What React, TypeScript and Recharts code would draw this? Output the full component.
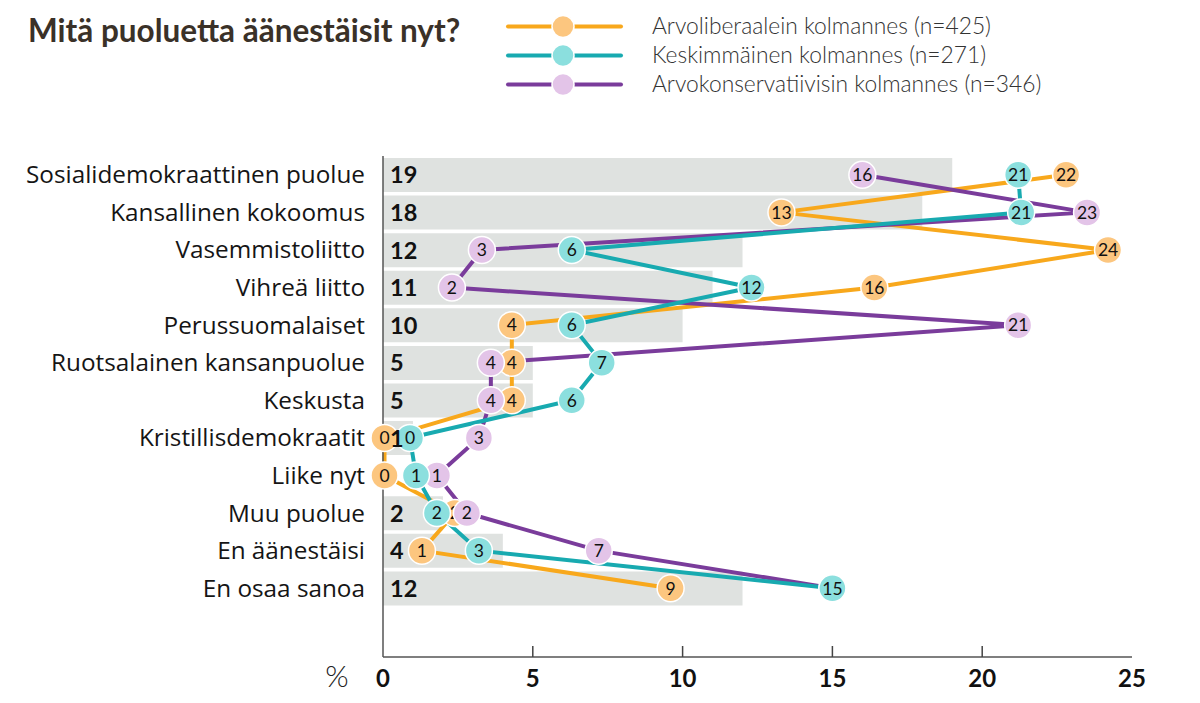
import React from "react";
import { ComposedChart, Bar, Line, XAxis, YAxis, LabelList } from "recharts";

// puolueet ylhäältä alas
const parties = [
  "Sosialidemokraattinen puolue",
  "Kansallinen kokoomus",
  "Vasemmistoliitto",
  "Vihreä liitto",
  "Perussuomalaiset",
  "Ruotsalainen kansanpuolue",
  "Keskusta",
  "Kristillisdemokraatit",
  "Liike nyt",
  "Muu puolue",
  "En äänestäisi",
  "En osaa sanoa",
];

// kaikki vastaajat (harmaat palkit)
const totals = [19, 18, 12, 11, 10, 5, 5, 1, 0, 2, 4, 12];

// arvoliberaalein kolmannes
const liberal = [22.8, 13.3, 24.2, 16.4, 4.3, 4.3, 4.3, 0.05, 0.05, 2.4, 1.3, 9.6];
const liberalLabels = [22, 13, 24, 16, 4, 4, 4, 0, 0, 2, 1, 9];

// keskimmäinen kolmannes
const middle = [21.2, 21.3, 6.3, 12.3, 6.3, 7.3, 6.3, 0.9, 1.1, 1.8, 3.2, 15.0];
const middleLabels = [21, 21, 6, 12, 6, 7, 6, 0, 1, 2, 3, 15];

// arvokonservatiivisin kolmannes
const conservative = [16.0, 23.5, 3.3, 2.3, 21.2, 3.6, 3.6, 3.2, 1.8, 2.8, 7.2, 15.0];
const conservativeLabels = [16, 23, 3, 2, 21, 4, 4, 3, 1, 2, 7, 15];

const seriesNames = [
  "Arvoliberaalein kolmannes (n=425)",
  "Keskimmäinen kolmannes (n=271)",
  "Arvokonservatiivisin kolmannes (n=346)",
];

const xTicks = [0, 5, 10, 15, 20, 25];

const data = parties.map((name, i) => ({
  name,
  total: totals[i],
  liberal: liberal[i],
  middle: middle[i],
  conservative: conservative[i],
}));

const FONT = "Lato, 'Noto Sans', sans-serif";
const LABEL_FONT = "'Open Sans', 'Noto Sans', sans-serif";

const series = [
  { key: "liberal", name: seriesNames[0], line: "#f8a81c", fill: "#fcc67f", labels: liberalLabels },
  { key: "conservative", name: seriesNames[2], line: "#7a3c9b", fill: "#e3c4e8", labels: conservativeLabels },
  { key: "middle", name: seriesNames[1], line: "#18aab0", fill: "#8bdfde", labels: middleLabels },
];
const legendOrder = [series[0], series[2], series[1]];

const makeDot = (fill: string, labels: number[]) => (props: any) => {
  const { cx, cy, index } = props;
  if (cx == null || cy == null) return <g key={`none-${index}`} />;
  return (
    <g key={`dot-${index}`}>
      <circle cx={cx} cy={cy} r={13.5} fill={fill} stroke="#fff" strokeWidth={1.5} />
      <text x={cx} y={cy} dy="0.36em" textAnchor="middle" fontSize={17.5} fontFamily={FONT} fill="#111">
        {labels[index]}
      </text>
    </g>
  );
};

const XTick = (props: any) => {
  const { x, y, payload } = props;
  const v = payload.value;
  return (
    <g>
      {v > 0 && v < 25 && <line x1={x} x2={x} y1={y} y2={y - 11} stroke="#444" strokeWidth={1.5} />}
      <text x={x} y={y + 30} textAnchor="middle" fontWeight={700} fontSize={24} fontFamily={FONT} fill="#111">
        {v}
      </text>
      {v === 0 && (
        <text x={x - 46} y={y + 30} textAnchor="middle" fontSize={30} fontWeight={300} fontFamily={FONT} fill="#222">
          %
        </text>
      )}
    </g>
  );
};

const YTick = (props: any) => {
  const { x, y, payload } = props;
  return (
    <text x={x} y={y} dy="0.35em" textAnchor="end" fontSize={24.3} fontWeight={500} fontFamily={LABEL_FONT} fill="#151515">
      {payload.value}
    </text>
  );
};

const BarValue = (props: any) => {
  const { x, y, height, value } = props;
  return (
    <text x={x + 7} y={y + height / 2} dy="0.36em" fontWeight={700} fontSize={23.5} fontFamily={FONT} fill="#111">
      {value}
    </text>
  );
};

export default function App() {
  return (
    <div style={{ position: "relative", width: 1200, height: 703, background: "#fff" }}>
      <style>{"body{margin:0}"}</style>
      <svg width={1200} height={110} style={{ position: "absolute", left: 0, top: 0 }}>
        <text x={28} y={42} fontSize={31.5} fontWeight={700} fontFamily={FONT} fill="#3a3128">
          Mitä puoluetta äänestäisit nyt?
        </text>
        {legendOrder.map((s, i) => {
          const cy = 26.5 + i * 29;
          return (
            <g key={s.key}>
              <line x1={508} x2={621} y1={cy} y2={cy} stroke={s.line} strokeWidth={4} strokeLinecap="round" />
              <circle cx={563} cy={cy} r={11} fill={s.fill} stroke="#fff" strokeWidth={1.5} />
              <text x={652} y={cy} dy="0.35em" fontSize={22.8} fontWeight={300} fontFamily={FONT} fill="#333">
                {s.name}
              </text>
            </g>
          );
        })}
      </svg>
      <ComposedChart
        width={1200}
        height={703}
        data={data}
        layout="vertical"
        margin={{ top: 156, right: 68, bottom: 0, left: 0 }}
      >
        <XAxis
          type="number"
          domain={[0, 25]}
          ticks={xTicks}
          height={46}
          tickSize={0}
          tickMargin={0}
          tick={<XTick />}
          axisLine={{ stroke: "#555", strokeWidth: 1.5 }}
          tickLine={false}
        />
        <YAxis
          type="category"
          dataKey="name"
          width={383}
          padding={{ top: 0, bottom: 50 }}
          tickSize={0}
          tickMargin={18}
          tick={<YTick />}
          axisLine={{ stroke: "#555", strokeWidth: 1.5 }}
          tickLine={false}
          interval={0}
        />
        <Bar dataKey="total" fill="#dfe2e0" barSize={34} isAnimationActive={false}>
          <LabelList dataKey="total" content={<BarValue />} />
        </Bar>
        {series.map((s) => (
          <Line
            key={s.key}
            type="linear"
            dataKey={s.key}
            stroke={s.line}
            strokeWidth={4}
            dot={makeDot(s.fill, s.labels)}
            activeDot={false}
            isAnimationActive={false}
          />
        ))}
      </ComposedChart>
    </div>
  );
}
